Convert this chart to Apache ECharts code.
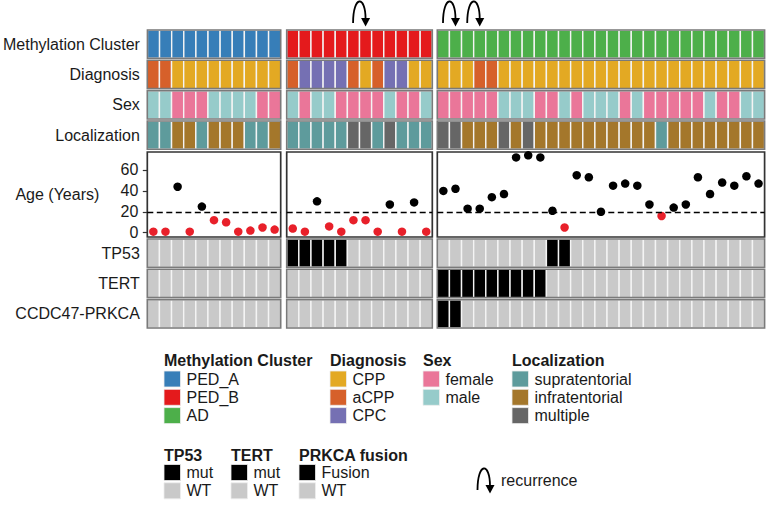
<!DOCTYPE html>
<html><head><meta charset="utf-8">
<script src="https://cdn.jsdelivr.net/npm/echarts@6/dist/echarts.min.js"></script>
<style>html,body{margin:0;padding:0;background:#fff}#c{width:766px;height:506px}</style>
</head><body><div id="c"></div>
<script>
// ---------------- DATA ----------------
const clusters = ['PED_A', 'PED_B', 'AD'];
const diagnoses = ['CPP', 'aCPP', 'CPC'];
const sexes = ['female', 'male'];
const localizations = ['supratentorial', 'infratentorial', 'multiple'];
const ageTicks = [0, 20, 40, 60];

const methylation = [
  'PED_A','PED_A','PED_A','PED_A','PED_A','PED_A','PED_A','PED_A','PED_A','PED_A','PED_A',
  'PED_B','PED_B','PED_B','PED_B','PED_B','PED_B','PED_B','PED_B','PED_B','PED_B','PED_B','PED_B',
  'AD','AD','AD','AD','AD','AD','AD','AD','AD','AD','AD','AD','AD','AD','AD','AD','AD','AD','AD','AD','AD','AD','AD','AD','AD','AD','AD'
];
const diagnosis = [
  'aCPP','aCPP','CPP','CPP','CPP','CPP','CPP','CPP','CPP','CPP','CPP',
  'aCPP','CPC','CPC','CPC','CPC','aCPP','CPP','aCPP','CPC','CPC','CPP','CPP',
  'CPP','CPP','CPP','aCPP','aCPP','CPP','CPP','CPP','CPP','CPP','CPP','CPP','CPP','CPP','CPP','CPP','CPP','CPP','CPP','CPP','CPP','CPP','CPP','CPP','CPP','CPP','CPP'
];
const sex = [
  'male','male','female','female','female','male','male','male','male','female','female',
  'male','female','male','male','female','female','female','female','male','female','female','male',
  'female','female','female','female','female','male','male','male','female','female','male','female','male','male','male','female','male','female','female','female','female','female','male','female','female','male','male'
];
const localization = [
  'supratentorial','supratentorial','infratentorial','infratentorial','supratentorial','infratentorial','infratentorial','infratentorial','supratentorial','supratentorial','infratentorial',
  'supratentorial','supratentorial','supratentorial','supratentorial','supratentorial','multiple','multiple','supratentorial','multiple','supratentorial','supratentorial','supratentorial',
  'multiple','multiple','infratentorial','infratentorial','infratentorial','multiple','infratentorial','multiple','infratentorial','infratentorial','infratentorial','infratentorial','infratentorial','infratentorial','infratentorial','infratentorial','infratentorial','infratentorial','supratentorial','infratentorial','infratentorial','infratentorial','infratentorial','infratentorial','infratentorial','infratentorial','infratentorial'
];
const age = [
  1, 1, 44, 1, 25, 12, 10, 1, 2, 5, 3,
  4, 1, 30, 6, 1, 12, 12, 1, 27, 1, 29, 1,
  40, 42, 23, 23, 34, 37, 72, 74, 72, 21, 5, 55, 53, 20, 45, 47, 45, 27, 16, 24, 27, 53, 37, 48, 45, 54, 47
];
// 1 = mutated / fusion / recurrence, 0 = WT / none
const tp53 = [
  0,0,0,0,0,0,0,0,0,0,0,
  1,1,1,1,1,0,0,0,0,0,0,0,
  0,0,0,0,0,0,0,0,0,1,1,0,0,0,0,0,0,0,0,0,0,0,0,0,0,0,0
];
const tert = [
  0,0,0,0,0,0,0,0,0,0,0,
  0,0,0,0,0,0,0,0,0,0,0,0,
  1,1,1,1,1,1,1,1,1,0,0,0,0,0,0,0,0,0,0,0,0,0,0,0,0,0,0
];
const prkcaFusion = [
  0,0,0,0,0,0,0,0,0,0,0,
  0,0,0,0,0,0,0,0,0,0,0,0,
  1,1,0,0,0,0,0,0,0,0,0,0,0,0,0,0,0,0,0,0,0,0,0,0,0,0,0
];
const recurrence = [
  0,0,0,0,0,0,0,0,0,0,0,
  0,0,0,0,0,0,1,0,0,0,0,0,
  0,1,0,1,0,0,0,0,0,0,0,0,0,0,0,0,0,0,0,0,0,0,0,0,0,0,0
];
const mutLevels = ['mut', 'WT'];
const fusionLevels = ['Fusion', 'WT'];

// ---------------- STYLE ----------------
const FONT = "'Liberation Sans', Arial, Helvetica, sans-serif";
const TXT = '#1a1a1a';
const colorMap = {
  PED_A: '#377eb8', PED_B: '#e41a1c', AD: '#4daf4a',
  CPP: '#e3a923', aCPP: '#d6602a', CPC: '#7570b3',
  female: '#ea7699', male: '#96cbca',
  supratentorial: '#5e9b9c', infratentorial: '#a4772b', multiple: '#666666',
  mut: '#000000', Fusion: '#000000', WT: '#c9c9c9'
};
const panelX = [[147.3, 280.7], [286.7, 432.3], [437.3, 764.6]];
const rows = [
  { label: 'Methylation Cluster', top: 30,    values: methylation },
  { label: 'Diagnosis',           top: 60.3,  values: diagnosis },
  { label: 'Sex',                 top: 90.7,  values: sex },
  { label: 'Localization',        top: 121,   values: localization },
  { label: 'TP53',                top: 239,   values: tp53.map(v => mutLevels[1 - v]) },
  { label: 'TERT',                top: 269.3, values: tert.map(v => mutLevels[1 - v]) },
  { label: 'CCDC47-PRKCA',        top: 299.7, values: prkcaFusion.map(v => fusionLevels[1 - v]) }
];
const ROW_H = 28.3;

const grids = [], xAxes = [], yAxes = [], series = [];
function addGrid(g) { grids.push(g); return grids.length - 1; }

function arrowShape(cx, yb, stroke) {
  return [
    { type: 'bezierCurve', shape: { x1: cx - 12.5, y1: yb - 5, cpx1: cx - 12.5, cpy1: yb - 33, cpx2: cx, cpy2: yb - 33, x2: cx, y2: yb - 9 },
      style: { fill: 'none', stroke: stroke, lineWidth: 1.8 } },
    { type: 'polygon', shape: { points: [[cx - 4.5, yb - 10], [cx + 4.5, yb - 10], [cx, yb - 1.5]] },
      style: { fill: stroke } }
  ];
}

clusters.forEach((cl, p) => {
  const idx = [];
  methylation.forEach((m, i) => { if (m === cl) idx.push(i); });
  const cols = idx.map((_, k) => String(k));
  const gl = panelX[p][0], gr = 766 - panelX[p][1];

  // recurrence arrows
  let g = addGrid({ left: gl, right: gr, top: 0, height: 28, show: false });
  xAxes.push({ type: 'category', gridIndex: g, data: cols, show: false });
  yAxes.push({ type: 'value', gridIndex: g, min: 0, max: 1, show: false });
  series.push({
    type: 'custom', xAxisIndex: g, yAxisIndex: g, silent: true,
    data: idx.map((s, k) => recurrence[s] ? [k, 0] : null).filter(Boolean),
    renderItem: (params, api) => {
      const c = api.coord([api.value(0), api.value(1)]);
      return { type: 'group', children: arrowShape(c[0], c[1], '#000') };
    }
  });

  // tile rows
  rows.forEach(row => {
    const gi = addGrid({ left: gl, right: gr, top: row.top, height: ROW_H, show: false });
    xAxes.push({ type: 'category', gridIndex: gi, data: cols, show: false });
    yAxes.push({
      type: 'category', gridIndex: gi, data: [row.label],
      axisLine: { show: false }, axisTick: { show: false },
      axisLabel: { show: p === 0, fontSize: 16, color: TXT, margin: 7.5, fontFamily: FONT }
    });
    const vals = idx.map(s => row.values[s]);
    series.push({
      type: 'custom', xAxisIndex: gi, yAxisIndex: gi, silent: true, z: 2,
      data: vals.map((v, k) => [k, 0]),
      renderItem: (params, api) => {
        const c = api.coord([api.value(0), api.value(1)]);
        const sz = api.size([1, 1]);
        return { type: 'rect',
          shape: { x: c[0] - sz[0] / 2, y: c[1] - sz[1] / 2, width: sz[0], height: sz[1] },
          style: { fill: colorMap[vals[params.dataIndex]], stroke: '#f4f4f4', lineWidth: 1.4 } };
      }
    });
    series.push({
      type: 'custom', xAxisIndex: gi, yAxisIndex: gi, silent: true, z: 3,
      data: [[0, 0]],
      renderItem: (params) => {
        const cs = params.coordSys;
        return { type: 'rect', shape: { x: cs.x, y: cs.y, width: cs.width, height: cs.height },
          style: { fill: 'none', stroke: '#7a7a7a', lineWidth: 1.6 } };
      }
    });
  });

  // age panel
  const ga = addGrid({ left: gl, right: gr, top: 152, height: 85, show: true,
    borderColor: '#333', borderWidth: 1.7, backgroundColor: '#ffffff' });
  xAxes.push({ type: 'category', gridIndex: ga, data: cols, show: false });
  yAxes.push({
    type: 'value', gridIndex: ga, min: -4.1, max: 77.2,
    splitLine: { show: false }, axisLine: { show: false },
    axisTick: { show: p === 0, length: 4.5, lineStyle: { color: '#333', width: 1.2 }, customValues: ageTicks },
    axisLabel: { show: p === 0, customValues: ageTicks, fontSize: 16, color: TXT, margin: 9, fontFamily: FONT },
    name: p === 0 ? 'Age (Years)' : '', nameLocation: 'middle', nameRotate: 0, nameGap: 48,
    nameTextStyle: { fontSize: 16, color: TXT, fontFamily: FONT, align: 'right' }
  });
  series.push({
    type: 'scatter', xAxisIndex: ga, yAxisIndex: ga, symbolSize: 8.5, silent: true, z: 4,
    itemStyle: { opacity: 1 },
    data: idx.map((s, k) => ({ value: [k, age[s]], itemStyle: { opacity: 1, color: age[s] < 18 ? '#e8202a' : '#000000' } })),
    markLine: {
      silent: true, symbol: ['none', 'none'], label: { show: false },
      lineStyle: { type: [6, 3.5], color: '#000', width: 1.3, opacity: 1 },
      data: [{ yAxis: 20 }]
    }
  });
});

// ---------------- LEGEND (graphic) ----------------
const graphics = [];
function legendBlock(title, items, x, yTitle, yFirst, pitch) {
  graphics.push({ type: 'text', x: x, y: yTitle,
    style: { text: title, fontSize: 16, fontWeight: 'bold', fontFamily: FONT, fill: TXT, verticalAlign: 'middle' } });
  items.forEach((it, i) => {
    const yc = yFirst + i * pitch;
    graphics.push({ type: 'rect', shape: { x: x, y: yc - 8, width: 16.5, height: 16 },
      style: { fill: colorMap[it], stroke: '#eeeeee', lineWidth: 0.8 } });
    graphics.push({ type: 'text', x: x + 22.5, y: yc,
      style: { text: it, fontSize: 16, fontFamily: FONT, fill: TXT, verticalAlign: 'middle' } });
  });
}
legendBlock('Methylation Cluster', clusters, 164, 360, 379, 18.3);
legendBlock('Diagnosis', diagnoses, 330, 360, 379, 18.3);
legendBlock('Sex', sexes, 423, 360, 379, 18.3);
legendBlock('Localization', localizations, 512, 360, 379, 18.3);
legendBlock('TP53', mutLevels, 164, 455, 472.5, 18.3);
legendBlock('TERT', mutLevels, 231, 455, 472.5, 18.3);
legendBlock('PRKCA fusion', fusionLevels, 299, 455, 472.5, 18.3);
graphics.push({ type: 'group', children: arrowShape(490, 495, '#000') });
graphics.push({ type: 'text', x: 501, y: 480,
  style: { text: 'recurrence', fontSize: 16, fontFamily: FONT, fill: TXT, verticalAlign: 'middle' } });

const chart = echarts.init(document.getElementById('c'), null, { renderer: 'svg', width: 766, height: 506 });
chart.setOption({
  animation: false,
  backgroundColor: '#ffffff',
  textStyle: { fontFamily: FONT },
  grid: grids, xAxis: xAxes, yAxis: yAxes, series: series,
  graphic: graphics
});
</script>
</body></html>
